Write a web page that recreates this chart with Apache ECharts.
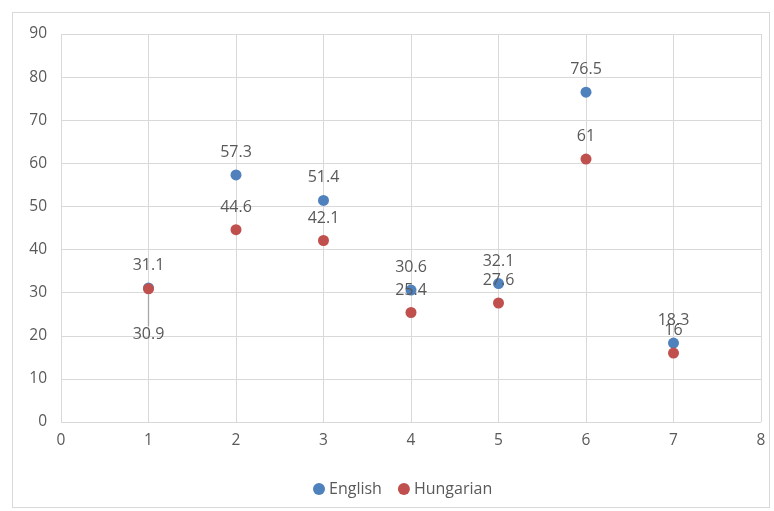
<!DOCTYPE html>
<html>
<head>
<meta charset="utf-8">
<script src="https://cdn.jsdelivr.net/npm/echarts@6/dist/echarts.min.js"></script>
<style>
  html, body { margin: 0; padding: 0; background: #fff; }
  #frame { position: absolute; left: 12px; top: 12px; width: 758px; height: 496px; border: 1px solid #d9d9d9; box-sizing: border-box; }
  #chart { position: absolute; left: 0; top: 0; width: 774px; height: 511px; }
</style>
</head>
<body>
<div id="frame"></div>
<div id="chart"></div>
<script>
// Scores per test item, two language groups
const xValues = [1, 2, 3, 4, 5, 6, 7];
const english = [31.1, 57.3, 51.4, 30.6, 32.1, 76.5, 18.3];
const hungarian = [30.9, 44.6, 42.1, 25.4, 27.6, 61, 16];
const seriesNames = ['English', 'Hungarian'];
const colors = ['#4F81BD', '#C0504D'];

const textColor = '#595959';
const font = '"Open Sans", "Liberation Sans", sans-serif';

function pairs(ys) { return xValues.map((x, i) => [x, ys[i]]); }

// Hungarian points; the first label is pushed below its point with a leader line
const hungarianData = pairs(hungarian).map((v, i) => i === 0
  ? { value: v, labelLine: { show: true, lineStyle: { color: '#a6a6a6', width: 1.3 } } }
  : { value: v });

const chart = echarts.init(document.getElementById('chart'), null, { renderer: 'canvas' });

chart.setOption({
  animation: false,
  grid: { left: 61, right: 13, top: 34, bottom: 89 },
  xAxis: {
    type: 'value', min: 0, max: 8, interval: 1,
    axisLine: { show: false }, axisTick: { show: false },
    splitLine: { lineStyle: { color: '#d9d9d9', width: 1 } },
    axisLabel: { color: textColor, fontSize: 15.5, fontFamily: font, margin: 11 }
  },
  yAxis: {
    type: 'value', min: 0, max: 90, interval: 10,
    axisLine: { show: false }, axisTick: { show: false },
    splitLine: { lineStyle: { color: '#d9d9d9', width: 1 } },
    axisLabel: { color: textColor, fontSize: 15.5, fontFamily: font, margin: 14 }
  },
  legend: {
    top: 476, left: 308, itemGap: 16,
    icon: 'circle', itemWidth: 12, itemHeight: 12,
    textStyle: { color: textColor, fontSize: 16, fontFamily: font, padding: [0, 0, 0, -1] }
  },
  series: [
    {
      name: seriesNames[0], type: 'scatter', symbolSize: 11,
      itemStyle: { color: colors[0], opacity: 1 },
      data: pairs(english),
      label: { show: true, position: 'top', distance: 9, color: textColor, fontSize: 16, fontFamily: font,
               formatter: p => p.value[1] },
      z: 2
    },
    {
      name: seriesNames[1], type: 'scatter', symbolSize: 11,
      itemStyle: { color: colors[1], opacity: 1 },
      data: hungarianData,
      label: { show: true, position: 'top', distance: 9, color: textColor, fontSize: 16, fontFamily: font,
               formatter: p => p.value[1] },
      labelLine: { show: false },
      labelLayout: function (params) {
        if (params.dataIndex === 0) {
          return { dy: 68 };
        }
        return {};
      },
      z: 3
    }
  ]
});
</script>
</body>
</html>
